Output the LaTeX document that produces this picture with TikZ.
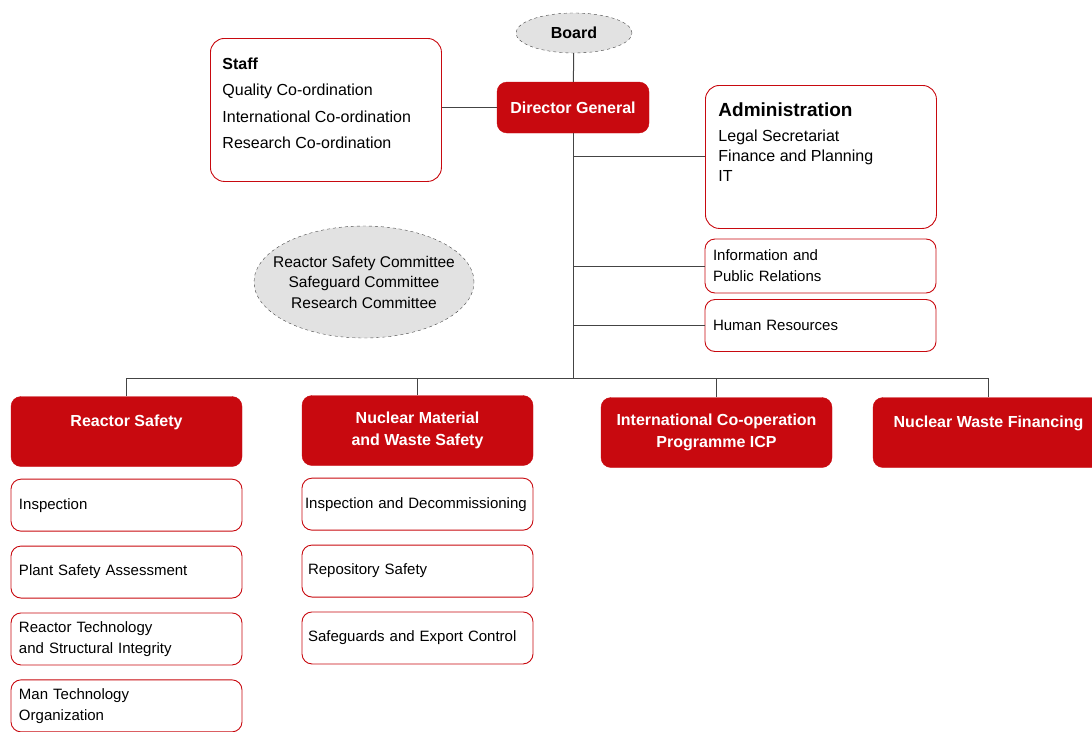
\documentclass[tikz,border=0pt]{standalone}
\usepackage{fontspec}
\setmainfont{Liberation Sans}
\usetikzlibrary{shapes.geometric,positioning}
\definecolor{orgred}{HTML}{C8090F}
\definecolor{orggray}{HTML}{E2E2E2}
\definecolor{orgline}{HTML}{444444}
\tikzset{
	unit/.style={draw=orgred, fill=orgred, rounded corners=10pt, text=white, align=center,
		font=\fontsize{16}{22}\selectfont\bfseries, minimum width=231pt, minimum height=70pt, inner sep=4pt},
	sub/.style={draw=orgred, line width=0.9pt, fill=white, rounded corners=10pt, align=left, font=\fontsize{15}{21}\selectfont,
		text width=215pt, inner xsep=8pt, minimum height=52pt},
	body/.style={ellipse, draw=orgline, dashed, fill=orggray, align=center, inner sep=0pt},
	link/.style={draw=orgline, line width=1pt}
}
\begin{document}
\begin{tikzpicture}[x=1pt, y=-1pt]
	\useasboundingbox (0,0) rectangle (1092,731);
	% top
	\node[body, minimum width=116pt, minimum height=40pt, font=\fontsize{16}{18}\selectfont\bfseries] (board) at (574,33) {Board};
	\node[unit, minimum width=152pt, minimum height=51pt] (dg) at (573,107.5) {Director General};
	\node[draw=orgred, line width=0.9pt, rounded corners=14pt, anchor=north west, inner xsep=12pt, inner ysep=19pt] (staff) at (210,38)
		{\parbox[c][105pt][t]{207pt}{\fontsize{16}{26.5}\selectfont{\bfseries Staff}\\Quality Co-ordination\\International Co-ordination\\Research Co-ordination}};
	\node[draw=orgred, line width=0.9pt, rounded corners=14pt, anchor=north west, inner xsep=13pt, inner ysep=17pt] (admin) at (705,85)
		{\parbox[c][109pt][t]{205pt}{\fontsize{16}{20}\selectfont{\fontsize{19}{24}\selectfont\bfseries Administration}\\[5pt]Legal Secretariat\\Finance and Planning\\IT}};
	\node[sub, minimum height=54pt] (info) at (820.5,266) {Information and\\Public Relations};
	\node[sub] (hr) at (820.5,325.5) {Human Resources};
	\node[body, minimum width=220pt, minimum height=112pt, inner sep=-14pt, font=\fontsize{15.5}{20.5}\selectfont] (cttee) at (364,282)
		{Reactor Safety Committee\\Safeguard Committee\\Research Committee};
	\coordinate (bus) at (573,378);
	% departments
	\node[unit] (rs) at (126.5,431.5) {Reactor Safety\\\mbox{}};
	\node[unit] (nmws) at (417.5,430.5) {Nuclear Material\\and Waste Safety};
	\node[unit] (icp) at (716.5,432.5) {International Co-operation\\Programme ICP};
	\node[unit] (nwf) at (988.5,432.5) {Nuclear Waste Financing\\\mbox{}};
	\node[sub, below=12pt of rs] (rs1) {Inspection};
	\node[sub, below=14pt of rs1] (rs2) {Plant Safety Assessment};
	\node[sub, below=14pt of rs2] (rs3) {Reactor Technology\\and Structural Integrity};
	\node[sub, below=14pt of rs3] (rs4) {Man Technology\\Organization};
	\node[sub, below=12pt of nmws, text width=225pt, inner xsep=3pt] (nm1) {Inspection and Decommissioning};
	\node[sub, below=14pt of nm1, text width=219pt, inner xsep=6pt] (nm2) {Repository Safety};
	\node[sub, below=14pt of nm2, text width=219pt, inner xsep=6pt] (nm3) {Safeguards and Export Control};
	% lines
	\draw[link] (board) -- (dg);
	\draw[link] (dg) -- (dg -| staff.east);
	\draw[link] (dg.south) -- (bus);
	\draw[link] (admin.west) -- (admin.west -| bus);
	\draw[link] (info.west) -- (info.west -| bus);
	\draw[link] (hr.west) -- (hr.west -| bus);
	\draw[link] (rs.north |- bus) -- (nwf.north |- bus);
	\foreach \u in {rs,nmws,icp,nwf}
		\draw[link] (\u.north) -- (\u.north |- bus);
\end{tikzpicture}
\end{document}
